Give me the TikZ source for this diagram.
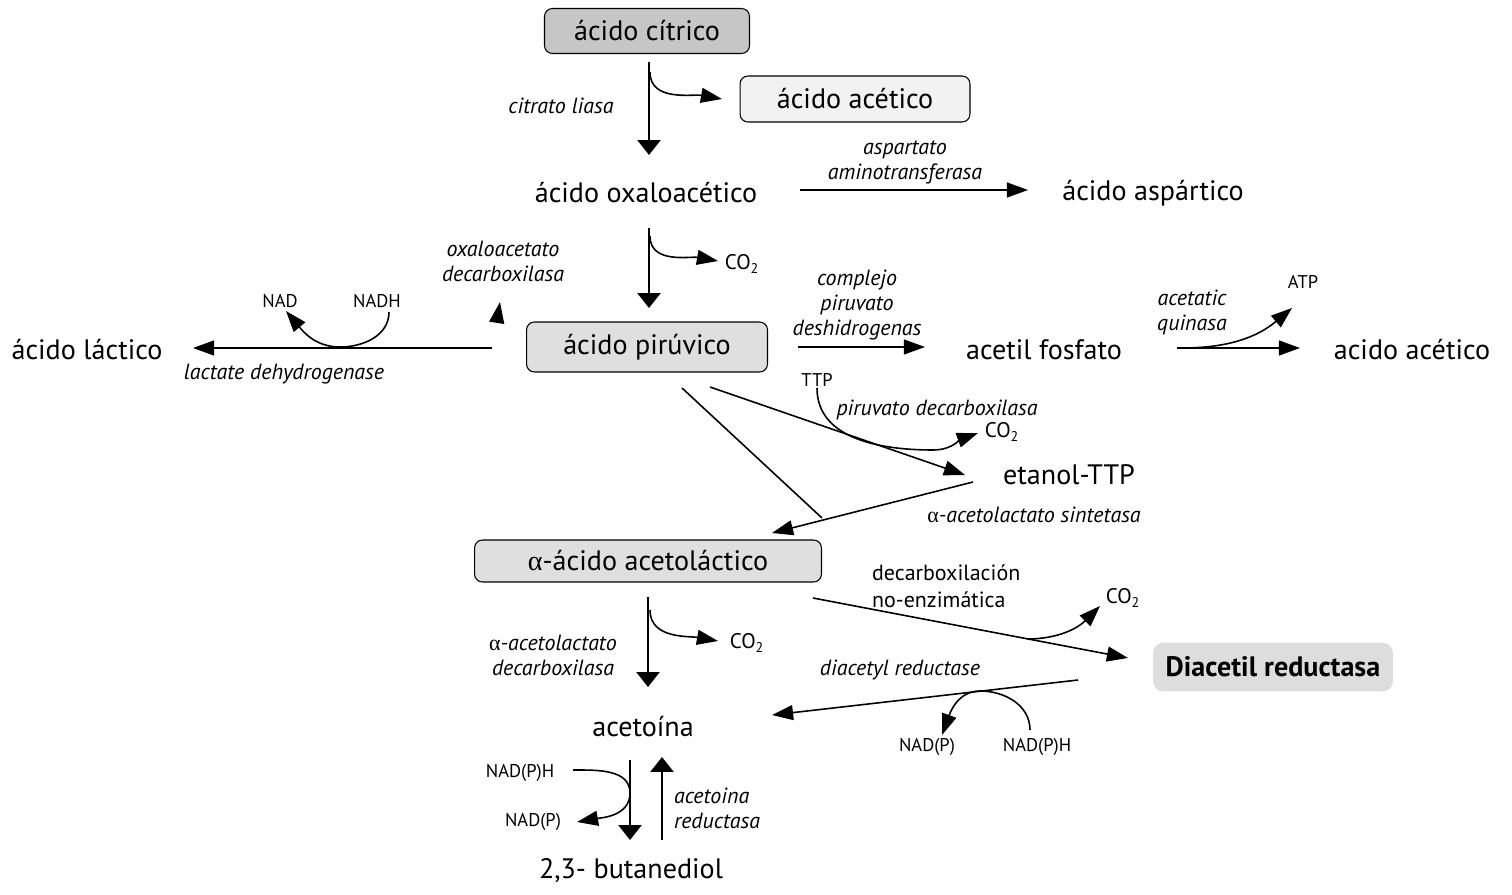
\documentclass[tikz,border=0pt]{standalone}
\usepackage{fontspec}
\setmainfont{PT Sans}
\newfontfamily\greekfont{Liberation Serif}
\usetikzlibrary{
    arrows.meta,
    positioning,
    calc
}

\begin{document}
\begin{tikzpicture}[
    x=0.02cm,
    y=-0.02cm,
    every node/.style={
        font=\fontsize{16pt}{19pt}\selectfont,
        inner sep=1pt
    },
    metabolite/.style={
        align=center
    },
    darkbox/.style={
        rectangle,
        rounded corners=4.5pt,
        draw=black,
        line width=0.6pt,
        fill=gray!45,
        minimum width=4.1cm,
        minimum height=0.9cm
    },
    lightbox/.style={
        darkbox,
        fill=gray!10,
        minimum width=4.6cm,
        minimum height=0.92cm
    },
    midbox/.style={
        darkbox,
        fill=gray!25
    },
    keybox/.style={
        rectangle,
        rounded corners=6pt,
        fill=gray!27,
        minimum width=4.8cm,
        minimum height=0.98cm
    },
    enzyme/.style={
        font=\fontsize{12.5pt}{14.2pt}\selectfont\itshape,
        align=center
    },
    note/.style={
        font=\fontsize{12.5pt}{15.3pt}\selectfont,
        align=left
    },
    cofactor/.style={
        font=\fontsize{10.5pt}{12pt}\selectfont
    },
    gas/.style={
        font=\fontsize{12pt}{14pt}\selectfont
    },
    mainflow/.style={
        -{Triangle[length=8.5pt,width=13pt]},
        line width=1.7pt
    },
    flow/.style={
        -{Triangle[length=12pt,width=8.5pt]},
        line width=0.9pt
    },
    link/.style={
        line width=0.9pt
    }
]

\useasboundingbox (0,0) rectangle (1512,895);

% ===========================================================
% Metabolites
% ===========================================================

\node[darkbox] (citrico) at (647,31) {ácido cítrico};
\node[lightbox] (aceticoA) at (855,99) {ácido acético};
\node[metabolite] (oxalo) at (646,193) {ácido oxaloacético};
\node[metabolite] (aspartico) at (1153,193) {ácido aspártico};

\node[midbox, minimum width=4.82cm, minimum height=1.0cm] (piruvico)
    at (647,347) {ácido pirúvico};
\node[metabolite] (lactico) at (87,350) {ácido láctico};
\node[metabolite] (acetilP) at (1044,350) {acetil fosfato};
\node[metabolite] (aceticoB) at (1412,350) {acido acético};
\node[metabolite] (etanol) at (1069,475) {etanol-TTP};

\node[midbox, minimum width=6.94cm, minimum height=0.84cm] (acetolact)
    at (648,561) {{\greekfont α}-ácido acetoláctico};
\node[keybox] (diacetil) at (1273,667) {\textbf{Diacetil reductasa}};
\node[metabolite] (acetoina) at (643,727) {acetoína};
\node[metabolite] (butanediol) at (631,871) {2,3- butanediol};

% ===========================================================
% Enzymes and notes
% ===========================================================

\node[enzyme] (liasa) at (561,106) {citrato liasa};
\node[enzyme] (aat) at (905,162) {aspartato\\aminotransferasa};
\node[enzyme] (oaadc) at (503,261) {oxaloacetato\\decarboxilasa};
\node[enzyme] (pdh) at (857,305) {complejo\\piruvato\\deshidrogenas};
\node[enzyme] (ack) at (1192,312) {acetatic\\quinasa};
\node[enzyme] (ldh) at (284,374) {lactate dehydrogenase};
\node[enzyme] (pdc) at (937,410) {piruvato decarboxilasa};
\node[enzyme] (als) at (1034,515)
    {{\greekfont\upshape α}-acetolactato sintetasa};
\node[note, anchor=west] (nonenz) at (870,586)
    {decarboxilación\\no-enzimática};
\node[enzyme] (dar) at (900,670) {diacetyl reductase};
\node[enzyme] (aldc) at (553,655)
    {{\greekfont\upshape α}-acetolactato\\decarboxilasa};
\node[enzyme, align=left, anchor=west] (ar) at (672,808)
    {acetoina\\reductasa};

% Cofactors and by-products
\node[gas] (co2a) at (742,264) {CO\textsubscript{2}};
\node[gas] (co2b) at (1002,432) {CO\textsubscript{2}};
\node[gas] (co2c) at (1123,598) {CO\textsubscript{2}};
\node[gas] (co2d) at (747,643) {CO\textsubscript{2}};
\node[cofactor] (nad) at (280,301) {NAD};
\node[cofactor] (nadh) at (377,301) {NADH};
\node[cofactor] (ttp) at (817,380) {TTP};
\node[cofactor] (atp) at (1303,282) {ATP};
\node[cofactor] (nadpA) at (927,747) {NAD(P)};
\node[cofactor] (nadphA) at (1037,747) {NAD(P)H};
\node[cofactor] (nadphB) at (520,773) {NAD(P)H};
\node[cofactor] (nadpB) at (533,822) {NAD(P)};

% ===========================================================
% Upper pathway
% ===========================================================

% Citrate cleavage
\draw[mainflow] ($(citrico)+(2,31)$) -- ($(oxalo)+(3,-38)$);
\draw[flow] ($(citrico)+(3,41)$) to[out=-90,in=170] ($(aceticoA)+(-133,0)$);

% Transamination
\draw[flow] ($(oxalo)+(154,-3)$) -- ($(aspartico)+(-125,-3)$);

% Oxaloacetate decarboxylation
\draw[mainflow] ($(oxalo)+(3,35)$) -- ($(piruvico)+(2,-39)$);
\draw[flow] ($(oxalo)+(4,43)$) to[out=-90,in=170] ($(co2a)+(-24,-3)$);
\draw[flow] ($(oaadc)+(-6,60)$) -- ($(oaadc)+(-3,41)$);

% Lactate branch
\coordinate (ldhmid) at ($(lactico)+(253,-3)$);
\draw[flow] ($(piruvico)+(-155,1)$) -- ($(lactico)+(106,-2)$);
\draw[flow] ($(nadh)+(12,11)$) to[out=-90,in=0] (ldhmid)
    to[out=180,in=-50] ($(nad)+(6,10)$);

% Acetate branch
\draw[flow] ($(piruvico)+(151,0)$) -- ($(acetilP)+(-119,-3)$);
\draw[flow] ($(acetilP)+(133,-2)$) -- ($(aceticoB)+(-112,-2)$);
\draw[flow] ($(acetilP)+(138,-2)$) to[out=0,in=-140] ($(atp)+(-11,26)$);

% ===========================================================
% Lower pathway
% ===========================================================

% Pyruvate decarboxylation
\coordinate (pdcmid) at ($(pdc)+(-4,40)$);
\draw[flow] ($(piruvico)+(63,40)$) -- ($(etanol)+(-104,0)$);
\draw[flow] ($(ttp)+(0,8)$) to[out=-90,in=180] (pdcmid)
    to[out=0,in=-160] ($(co2b)+(-24,1)$);

% Acetolactate synthesis
\draw[link] ($(piruvico)+(35,41)$) -- ($(acetolact)+(174,-43)$);
\draw[flow] ($(etanol)+(-96,7)$) -- ($(acetolact)+(124,-28)$);

% Non-enzymatic decarboxylation
\coordinate (nonmid) at ($(diacetil)+(-246,-28)$);
\draw[flow] ($(acetolact)+(165,37)$) -- ($(diacetil)+(-145,-9)$);
\draw[flow] (nonmid) to[out=0,in=-135] ($(co2c)+(-23,8)$);

% Diacetyl reduction
\coordinate (darmid) at ($(dar)+(80,21)$);
\draw[flow] ($(diacetil)+(-195,13)$) -- ($(acetoina)+(129,-12)$);
\draw[flow] ($(nadphA)+(-7,-17)$) to[out=90,in=0] (darmid)
    to[out=180,in=70] ($(nadpA)+(15,-12)$);

% Acetolactate decarboxylation
\draw[mainflow] ($(acetolact)+(0,36)$) -- ($(acetoina)+(5,-40)$);
\draw[flow] ($(acetolact)+(2,49)$) to[out=-90,in=170] ($(co2d)+(-29,-2)$);

% Acetoin <-> butanediol
\coordinate (armid) at ($(acetoina)+(-13,66)$);
\draw[mainflow] ($(acetoina)+(-13,33)$) -- ($(butanediol)+(-1,-31)$);
\draw[mainflow] ($(butanediol)+(31,-31)$) -- ($(acetoina)+(19,30)$);
\draw[flow] ($(nadphB)+(53,-3)$) to[out=0,in=90] (armid)
    to[out=-90,in=10] ($(nadpB)+(44,0)$);

\end{tikzpicture}
\end{document}
